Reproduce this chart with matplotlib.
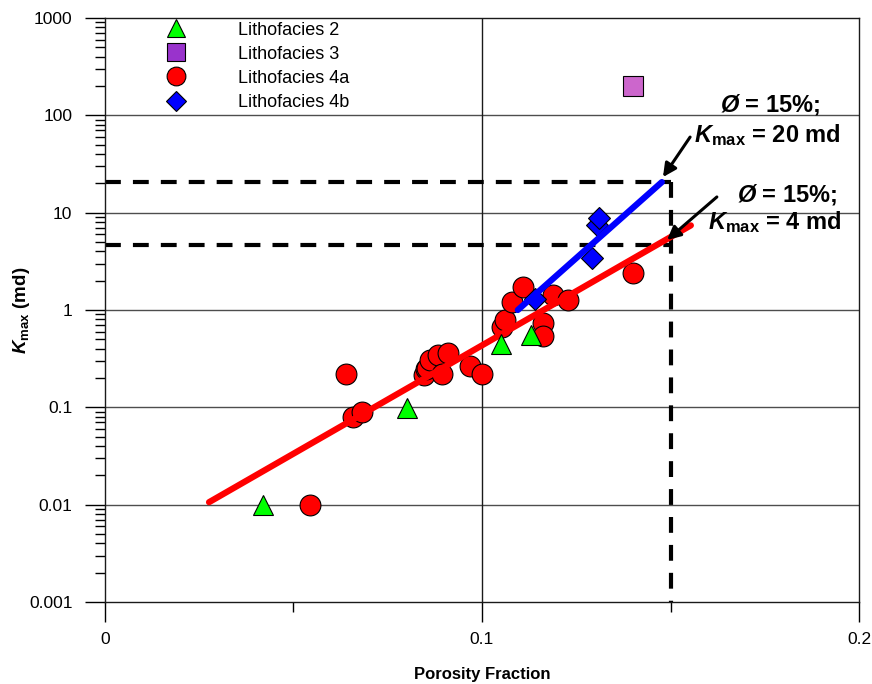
import numpy as np
import matplotlib.pyplot as plt
from matplotlib.lines import Line2D
from matplotlib.ticker import FixedLocator, NullFormatter, LogLocator

plt.rcParams['font.family'] = ['Liberation Sans', 'DejaVu Sans']
plt.rcParams['mathtext.fontset'] = 'custom'
plt.rcParams['mathtext.rm'] = 'Liberation Sans'
plt.rcParams['mathtext.it'] = 'Liberation Sans:italic'
plt.rcParams['mathtext.bf'] = 'Liberation Sans:bold'
plt.rcParams['mathtext.bfit'] = 'Liberation Sans:italic:bold'

# data
lf2_phi = [0.0420, 0.0801, 0.1050, 0.1130]
lf2_k = [0.010, 0.098, 0.45, 0.55]

lf3_phi = [0.140]
lf3_k = [200]

lf4a_phi = [0.0544, 0.0639, 0.0658, 0.0682, 0.0846, 0.0851, 0.0854, 0.0862,
            0.0883, 0.0894, 0.0910, 0.0968, 0.1000, 0.1053, 0.1061, 0.1080,
            0.1109, 0.1162, 0.1162, 0.1188, 0.1228, 0.1401]
lf4a_k = [0.010, 0.22, 0.080, 0.090, 0.215, 0.245, 0.253, 0.306,
          0.345, 0.22, 0.361, 0.266, 0.22, 0.67, 0.79, 1.21,
          1.72, 0.73, 0.54, 1.43, 1.26, 2.40]

lf4b_phi = [0.1140, 0.1292, 0.1305, 0.1310]
lf4b_k = [1.30, 3.42, 7.5, 8.8]

fit4a_phi = [0.0276, 0.1554]
fit4a_k = [0.0106, 7.4]
fit4b_phi = [0.1095, 0.1477]
fit4b_k = [1.0, 20.6]

phi_cut = 0.15
k_cut_4b = 20.5
k_cut_4a = 4.6

fig = plt.figure(figsize=(8.72, 6.84), dpi=100)
ax = fig.add_axes([0.1204, 0.1199, 0.8647, 0.8538])

ax.set_yscale('log')
ax.set_xlim(0, 0.2)
ax.set_ylim(0.001, 1000)

# grid: decades and x = 0.1
for yv in [0.01, 0.1, 1, 10, 100]:
    ax.axhline(yv, color='0.3', lw=1.0, zorder=1)
ax.axvline(0.1, color='0.1', lw=1.0, zorder=1)

dash = (0, (3.8, 2.9))
ax.plot([0, phi_cut], [k_cut_4b, k_cut_4b], color='black', lw=3, ls=dash, zorder=2)
ax.plot([0, phi_cut], [k_cut_4a, k_cut_4a], color='black', lw=3, ls=dash, zorder=2)
ax.plot([phi_cut, phi_cut], [k_cut_4b, 0.001], color='black', lw=3, ls=dash, zorder=2)

ms = 15
ax.plot(lf4a_phi, lf4a_k, 'o', ms=ms, mfc='#FF0000', mec='black', mew=0.8, zorder=3)
ax.plot(lf4b_phi, lf4b_k, 'D', ms=ms * 0.72, mfc='#0000FF', mec='black', mew=0.8, zorder=3)
ax.plot(lf3_phi, lf3_k, 's', ms=ms * 0.95, mfc='#CC66CC', mec='black', mew=0.8, zorder=3)

ax.plot(fit4a_phi, fit4a_k, color='#FF0000', lw=4.5, solid_capstyle='round', zorder=4)
ax.plot(fit4b_phi, fit4b_k, color='#0000FF', lw=4.5, solid_capstyle='round', zorder=4)

ax.plot(lf2_phi, lf2_k, '^', ms=ms, mfc='#00FF00', mec='black', mew=0.8, zorder=5)

# annotations
ann_font = dict(fontsize=17, fontweight='bold', ha='center', va='center')
ax.text(0.1764, 128, r'$\mathbfit{Ø}$ = 15%;', **ann_font)
ax.text(0.1756, 62, r'$\mathbfit{K}_{\mathbf{max}}$ = 20 md', **ann_font)
ax.text(0.1809, 15.2, r'$\mathbfit{Ø}$ = 15%;', **ann_font)
ax.text(0.1777, 8.0, r'$\mathbfit{K}_{\mathbf{max}}$ = 4 md', **ann_font)

arrow = dict(arrowstyle='-|>', color='black', lw=2.2, mutation_scale=20, shrinkA=0, shrinkB=0)
ax.annotate('', xy=(0.1480, 23.2), xytext=(0.1552, 59.8), arrowprops=arrow, zorder=6)
ax.annotate('', xy=(0.1491, 5.24), xytext=(0.1623, 14.5), arrowprops=arrow, zorder=6)

# axes styling
for s in ax.spines.values():
    s.set_linewidth(1.0)
    s.set_color('0.1')

ax.xaxis.set_major_locator(FixedLocator([0, 0.1, 0.2]))
ax.xaxis.set_minor_locator(FixedLocator([0.05, 0.15]))
ax.set_xticklabels(['0', '0.1', '0.2'])
ax.yaxis.set_major_locator(FixedLocator([0.001, 0.01, 0.1, 1, 10, 100, 1000]))
ax.set_yticklabels(['0.001', '0.01', '0.1', '1', '10', '100', '1000'])
ax.yaxis.set_minor_locator(LogLocator(base=10, subs=np.arange(2, 10), numticks=20))
ax.yaxis.set_minor_formatter(NullFormatter())

ax.tick_params(axis='x', which='major', direction='out', length=14.4, width=1, pad=7,
               labelsize=12.5, top=False)
ax.tick_params(axis='x', which='minor', direction='out', length=7.2, width=1, top=False)
ax.tick_params(axis='y', which='major', direction='out', length=14.4, width=1, pad=9,
               labelsize=12.5, right=False)
ax.tick_params(axis='y', which='minor', direction='out', length=7.2, width=1, right=False)

ax.set_xlabel('Porosity Fraction', fontsize=12, fontweight='bold')
ax.xaxis.set_label_coords(0.5, -0.112)
ax.set_ylabel(r'$\mathbfit{K}_{\mathbf{max}}$ (md)', fontsize=13.5, fontweight='bold')
ax.yaxis.set_label_coords(-0.097, 0.5)

lms = 13.5
handles = [
    Line2D([], [], ls='none', marker='^', ms=lms, mfc='#00FF00', mec='black', mew=0.8),
    Line2D([], [], ls='none', marker='s', ms=lms * 0.95, mfc='#9933CC', mec='black', mew=0.8),
    Line2D([], [], ls='none', marker='o', ms=lms, mfc='#FF0000', mec='black', mew=0.8),
    Line2D([], [], ls='none', marker='D', ms=lms * 0.72, mfc='#0000FF', mec='black', mew=0.8),
]
labels = ['Lithofacies 2', 'Lithofacies 3', 'Lithofacies 4a', 'Lithofacies 4b']
ax.legend(handles, labels, loc='upper left', bbox_to_anchor=(0.061, 1.006), frameon=False,
          fontsize=13, handletextpad=2.44, labelspacing=0.39, borderpad=0.4, borderaxespad=0)

fig.savefig('out.png', dpi=100)
